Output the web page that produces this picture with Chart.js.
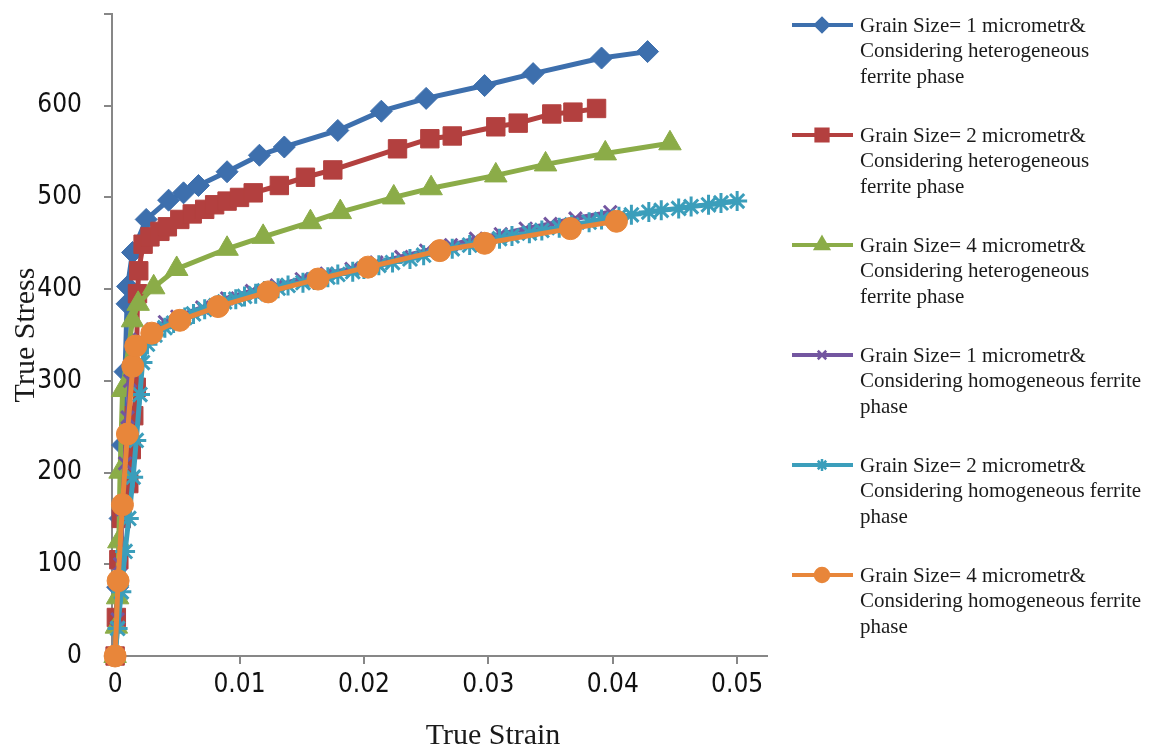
<!DOCTYPE html>
<html>
<head>
<meta charset="utf-8">
<script src="https://cdn.jsdelivr.net/npm/chart.js@4.4.1/dist/chart.umd.min.js"></script>
<style>
html, body { margin: 0; padding: 0; background: #fff; }
#wrap { width: 1151px; height: 754px; }
</style>
</head>
<body>
<div id="wrap"><canvas id="chart" width="1151" height="754"></canvas></div>
<script>
// [strain, stress] pairs
const het1 = [[0,0],[0.0002,75],[0.0004,150],[0.0006,230],[0.0008,310],[0.00096,384],[0.001,403],[0.0014,440],[0.0025,476],[0.0043,497],[0.0055,505],[0.0067,513],[0.009,528],[0.0116,546],[0.0136,555],[0.0179,573],[0.0214,594],[0.025,608],[0.0297,622],[0.0336,635],[0.0391,652],[0.0428,659]]
const het2 = [[0,0],[0.0001,42],[0.0003,105],[0.0005,150],[0.0011,188],[0.0013,225],[0.0015,262],[0.0017,293],[0.0018,395],[0.0019,420],[0.00225,449],[0.0028,457],[0.0036,463],[0.0042,468],[0.0052,476],[0.0062,482],[0.0072,487],[0.008,492],[0.009,496],[0.01,500],[0.0111,505],[0.0132,513],[0.0153,522],[0.0175,530],[0.0227,553],[0.0253,564],[0.0271,567],[0.0306,577],[0.0324,581],[0.0351,591],[0.0368,593],[0.0387,597]]
const het4 = [[0,0],[0.0001,32],[0.0002,64],[0.0003,125],[0.0004,201],[0.0006,290],[0.0014,366],[0.00185,384],[0.0031,402],[0.00495,422],[0.009,444],[0.0119,457],[0.0157,473],[0.0181,484],[0.0224,500],[0.0254,510],[0.0306,524],[0.0346,536],[0.0394,548],[0.0446,559]]
const hom1 = [[0,0],[0.0002,40],[0.0004,100],[0.0006,160],[0.0008,210],[0.001,260],[0.0012,300],[0.0015,330],[0.002,345],[0.003,356],[0.004,364],[0.005,370],[0.007,380],[0.009,390],[0.011,398],[0.013,404],[0.015,411],[0.017,417],[0.019,422],[0.021,429],[0.023,435],[0.025,442],[0.027,448],[0.029,455],[0.031,460],[0.033,466],[0.035,471],[0.037,477],[0.0398,484]]
const hom2 = [[0,0],[0.0002,30],[0.0005,70],[0.0008,114],[0.0011,150],[0.00145,195],[0.0017,235],[0.002,285],[0.0022,320],[0.0026,340],[0.0032,350],[0.004,358],[0.0047,363],[0.0056,369],[0.0063,373],[0.0072,378],[0.0081,382],[0.0088,386],[0.0097,389],[0.0104,392],[0.0113,395],[0.012,398],[0.0131,401],[0.0139,404],[0.0151,407],[0.016,410],[0.0171,413],[0.0179,416],[0.0191,419],[0.02,422],[0.0212,426],[0.0223,429],[0.0237,433],[0.0248,437],[0.0261,441],[0.0271,444],[0.0285,448],[0.0296,451],[0.0309,455],[0.0319,458],[0.0333,461],[0.0343,464],[0.0357,467],[0.0367,470],[0.0381,473],[0.0391,476],[0.0405,479],[0.0415,481],[0.0429,484],[0.0439,486],[0.0453,488],[0.0463,490],[0.0477,492],[0.0487,494],[0.05,496]]
const hom4 = [[0,0],[0.00024,82],[0.00059,165],[0.00099,242],[0.00142,316],[0.00166,338],[0.00295,352],[0.0052,366],[0.00828,381],[0.01231,397],[0.01631,411],[0.02033,424],[0.0261,442],[0.0297,450],[0.0366,466],[0.0403,474]]

const seriesLabels = [
  ['Grain Size= 1 micrometr&', 'Considering heterogeneous', 'ferrite phase'],
  ['Grain Size= 2 micrometr&', 'Considering heterogeneous', 'ferrite phase'],
  ['Grain Size= 4 micrometr&', 'Considering heterogeneous', 'ferrite phase'],
  ['Grain Size= 1 micrometr&', 'Considering homogeneous ferrite', 'phase'],
  ['Grain Size= 2 micrometr&', 'Considering homogeneous ferrite', 'phase'],
  ['Grain Size= 4 micrometr&', 'Considering homogeneous ferrite', 'phase']
]
const xTicks = [0, 0.01, 0.02, 0.03, 0.04, 0.05]
const yTicks = [0, 100, 200, 300, 400, 500, 600, 700]

const allSeries = [het1, het2, het4, hom1, hom2, hom4]
const colours = ['#3D6FAD', '#B3403F', '#8BAC48', '#7356A0', '#3B9EBB', '#E8863A']
const markers = ['rectRot', 'rect', 'triangle', 'crossRot', 'star', 'circle']
const markerSize = [11, 13, 13, 9, 10, 11]
const legendSize = [7, 9, 8, 6, 6, 7]

const axisGrey = '#878787'
const tickFont = {family: '"DejaVu Sans Condensed", sans-serif', size: 26}

let datasets = []
for (let i = 0; i < allSeries.length; i++) {
    datasets.push({
        label: seriesLabels[i].join(' '),
        data: allSeries[i].map(p => ({x: p[0], y: p[1]})),
        borderColor: colours[i],
        backgroundColor: colours[i],
        pointBackgroundColor: colours[i],
        pointBorderColor: colours[i],
        borderWidth: 5,
        pointStyle: markers[i],
        pointRadius: markerSize[i],
        pointBorderWidth: (markers[i] == 'star' || markers[i] == 'crossRot') ? 3 : 1,
        tension: 0,
        clip: false,
        order: allSeries.length - 1 - i
    })
}

const sideLegend = {
    id: 'sideLegend',
    afterDraw(chart) {
        const ctx = chart.ctx
        ctx.save()
        for (let i = 0; i < allSeries.length; i++) {
            const y0 = 25 + i * 110
            ctx.strokeStyle = colours[i]
            ctx.lineWidth = 4
            ctx.beginPath()
            ctx.moveTo(792, y0)
            ctx.lineTo(853, y0)
            ctx.stroke()
            ctx.fillStyle = colours[i]
            ctx.lineWidth = 2.5
            Chart.helpers.drawPoint(ctx, {pointStyle: markers[i], radius: legendSize[i], rotation: 0, borderWidth: 2.5}, 822, y0)
            ctx.fillStyle = '#1a1a1a'
            ctx.font = '21px "Liberation Serif"'
            ctx.textAlign = 'left'
            ctx.textBaseline = 'middle'
            seriesLabels[i].forEach((line, k) => ctx.fillText(line, 860, y0 + 1 + k * 25.5))
        }
        // x axis title sits right of centre in the original
        ctx.font = '30px "Liberation Serif"'
        ctx.textAlign = 'center'
        ctx.fillText('True Strain', 493, 736)
        ctx.restore()
    }
}

const ctx = document.getElementById('chart').getContext('2d')
const myChart = new Chart(ctx, {
    type: 'line',
    data: {datasets: datasets},
    plugins: [sideLegend],
    options: {
        responsive: false,
        animation: false,
        layout: {padding: {top: 8, right: 384, left: 0, bottom: 0}},
        plugins: {legend: {display: false}, tooltip: {enabled: false}},
        scales: {
            x: {
                type: 'linear',
                min: -0.00025,
                max: 0.0524,
                afterBuildTicks: s => { s.ticks = xTicks.map(v => ({value: v})) },
                afterFit: s => { s.height = 98; s.paddingLeft = 0; s.paddingRight = 0 },
                border: {color: axisGrey, width: 2},
                grid: {drawOnChartArea: false, drawTicks: true, tickLength: 8, color: axisGrey, lineWidth: 2},
                ticks: {
                    font: tickFont, color: '#111', padding: 6, maxRotation: 0, autoSkip: false,
                    callback: v => String(v)
                }
            },
            y: {
                min: 0,
                max: 700,
                afterBuildTicks: s => { s.ticks = yTicks.map(v => ({value: v})) },
                afterFit: s => { s.width = 112; s.paddingTop = 0; s.paddingBottom = 0 },
                border: {color: axisGrey, width: 2},
                grid: {drawOnChartArea: false, drawTicks: true, tickLength: 8, color: axisGrey, lineWidth: 2},
                title: {
                    display: true, text: 'True Stress', color: '#1a1a1a',
                    font: {family: '"Liberation Serif"', size: 30}, padding: {top: 8, bottom: 0}
                },
                ticks: {
                    font: tickFont, color: '#111', padding: 22, autoSkip: false,
                    callback: v => v == 700 ? '' : String(v)
                }
            }
        }
    }
})
</script>
</body>
</html>
